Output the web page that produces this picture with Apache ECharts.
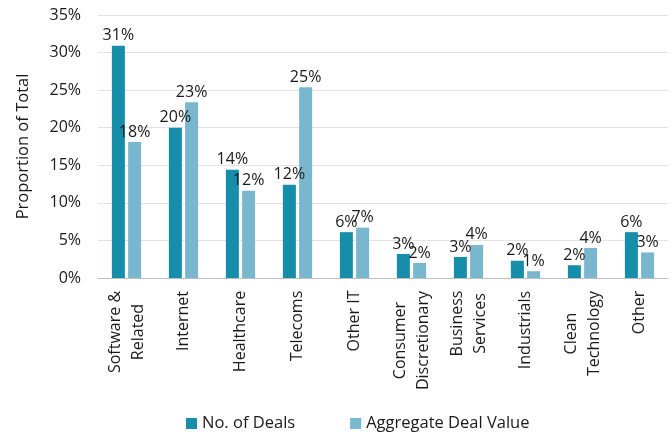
<!DOCTYPE html>
<html><head><meta charset="utf-8">
<script src="https://cdn.jsdelivr.net/npm/echarts@6/dist/echarts.min.js"></script>
<style>html,body{margin:0;padding:0;background:#fff}#c{width:672px;height:434px}</style>
</head><body><div id="c"></div>
<script>
const categories = ['Software &\nRelated','Internet','Healthcare','Telecoms','Other IT','Consumer\nDiscretionary','Business\nServices','Industrials','Clean\nTechnology','Other'];
const dealsCount = [30.9, 20.0, 14.4, 12.4, 6.1, 3.2, 2.8, 2.3, 1.7, 6.1];
const dealValue = [18.1, 23.4, 11.6, 25.4, 6.7, 2.0, 4.4, 0.9, 4.0, 3.4];
const seriesNames = ['No. of Deals', 'Aggregate Deal Value'];
const yTicks = {min: 0, max: 35, interval: 5};

const FONT = 'Open Sans';
const FS = 16;
// measure label lines so multi-line rotated labels are centred line-by-line
const ctx = document.createElement('canvas').getContext('2d');
ctx.font = FS + 'px "' + FONT + '"';
const rich = {};
categories.forEach((c, i) => {
  const w = Math.max(...c.split('\n').map(l => ctx.measureText(l).width));
  rich['c' + i] = {width: Math.ceil(w) + 1, align: 'center', fontFamily: FONT, fontSize: FS, lineHeight: 23, color: '#1a1a1a'};
});

const chart = echarts.init(document.getElementById('c'), null, {renderer: 'canvas'});
const lbl = {show: true, position: 'top', distance: 2, color: '#1a1a1a', fontFamily: FONT, fontSize: FS,
  formatter: p => Math.round(p.value) + '%'};
chart.setOption({
  animation: false,
  textStyle: {fontFamily: FONT},
  grid: {left: 98, right: 4, top: 15, bottom: 156, containLabel: false},
  legend: {top: 415, left: 186, itemWidth: 11, itemHeight: 11, itemGap: 55, icon: 'rect', padding: 0,
    textStyle: {fontFamily: FONT, fontSize: 16.5, color: '#1a1a1a'},
    data: seriesNames},
  xAxis: {type: 'category', data: categories,
    axisLine: {lineStyle: {color: '#bfbfbf'}}, axisTick: {show: false},
    axisLabel: {rotate: 90, margin: 12, interval: 0, color: '#1a1a1a', fontFamily: FONT, fontSize: FS, lineHeight: 23,
      formatter: (v, i) => v.split('\n').map(l => '{c' + i + '|' + l + '}').join('\n'), rich: rich}},
  yAxis: {type: 'value', min: yTicks.min, max: yTicks.max, interval: yTicks.interval,
    name: 'Proportion of Total', nameLocation: 'middle', nameGap: 66, nameRotate: 90,
    nameTextStyle: {fontFamily: FONT, fontSize: 16.5, color: '#1a1a1a'},
    axisLabel: {formatter: v => v + '%', color: '#1a1a1a', fontFamily: FONT, fontSize: FS, margin: 17},
    splitLine: {lineStyle: {color: '#e3e3e3'}}, axisLine: {show: false}, axisTick: {show: false}},
  series: [
    {name: seriesNames[0], type: 'bar', data: dealsCount, barWidth: 13, barGap: '25%',
      itemStyle: {color: '#168da9'}, label: lbl},
    {name: seriesNames[1], type: 'bar', data: dealValue, barWidth: 13,
      itemStyle: {color: '#78b7ce'}, label: lbl}
  ]
});
</script></body></html>
